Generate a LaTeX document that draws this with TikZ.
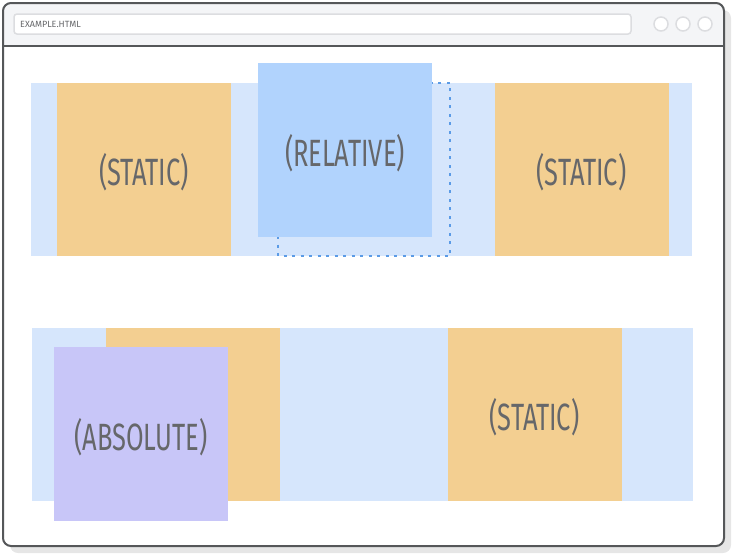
\documentclass[tikz,border=0pt]{standalone}
\usepackage{fontspec}
\setmainfont{Fira Sans}
\newfontfamily\labelfont{Fira Sans}[FakeStretch=0.67]
\usetikzlibrary{positioning}
\definecolor{frame}{HTML}{555759}
\definecolor{shadowc}{HTML}{E6E6E6}
\definecolor{barbg}{HTML}{F4F5F7}
\definecolor{addr}{HTML}{DCDDE0}
\definecolor{band}{HTML}{D6E6FC}
\definecolor{statc}{HTML}{F3CF91}
\definecolor{relc}{HTML}{B1D3FD}
\definecolor{absc}{HTML}{C8C6F8}
\definecolor{dotc}{HTML}{5B9BE6}
\definecolor{txt}{HTML}{66676A}
\tikzset{
  box/.style={inner sep=0pt, outer sep=0pt, minimum width=174pt, minimum height=173.5pt, text=txt, text height=40pt, text depth=8pt, font=\labelfont\fontsize{38}{40}\selectfont},
  staticbox/.style={box, fill=statc},
  relbox/.style={box, fill=relc},
  absbox/.style={box, fill=absc},
  ghost/.style={draw=dotc, line width=1.6pt, dash pattern=on 3pt off 5.5pt},
  dotbtn/.style={circle, draw=addr, line width=1.5pt, fill=white, minimum size=14pt, inner sep=0pt}
}
\begin{document}
\begin{tikzpicture}[x=1pt,y=-1pt]
\useasboundingbox (0,0) rectangle (732,555);
% shadow
\fill[shadowc, rounded corners=8pt] (10,10) rectangle (731,553);
% window
\fill[white, rounded corners=8pt] (3,3) rectangle (724,546);
\fill[barbg, rounded corners=8pt] (3,3) rectangle (724,20);
\fill[barbg] (3,12) rectangle (724,46);
\draw[frame, line width=2pt] (3,46) -- (724,46);
\draw[frame, line width=2pt, rounded corners=8pt] (3,3) rectangle (724,546);
% address bar
\node[draw=addr, line width=1.5pt, fill=white, rounded corners=3pt, minimum width=617pt, minimum height=20pt, inner sep=0pt] (addr) at (322.5,24) {};
\node[anchor=west, text=txt, font=\fontsize{9}{10}\selectfont, inner sep=0pt] (url) at (20,24.5) {EXAMPLE.HTML};
\node[dotbtn] (b1) at (661,24) {};
\node[dotbtn] (b2) at (683,24) {};
\node[dotbtn] (b3) at (705,24) {};
% row 1
\fill[band] (31,83) rectangle (692,256);
\node[staticbox] (s1) at (144,169.5) {(STATIC)};
\draw[ghost] (278,83) rectangle (450,256);
\node[relbox] (rel) at (345,150) {(RELATIVE)};
\node[staticbox] (s2) at (581.5,169.5) {(STATIC)};
% row 2
\fill[band] (32,328) rectangle (693,501);
\node[staticbox] (s3) at (192.5,414.5) {};
\node[absbox] (abs) at (141,434) {(ABSOLUTE)};
\node[staticbox] (s4) at (534.5,414.5) {(STATIC)};
\end{tikzpicture}
\end{document}
